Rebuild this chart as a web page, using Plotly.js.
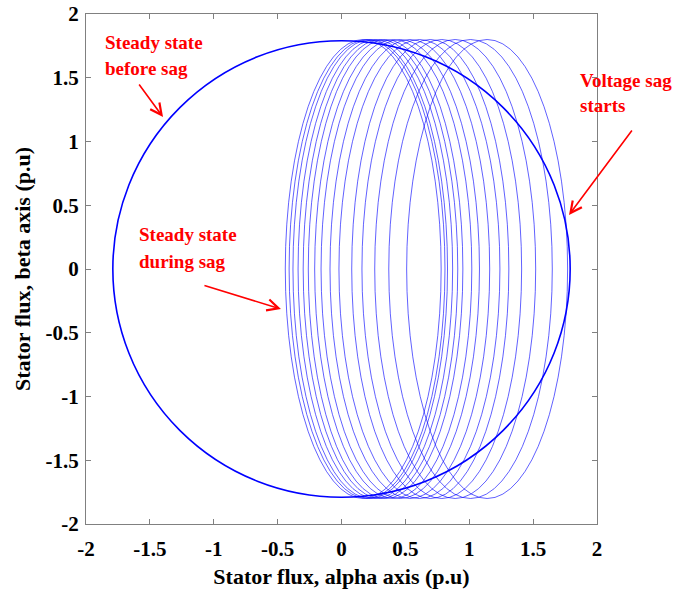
<!DOCTYPE html>
<html><head><meta charset="utf-8">
<script src="https://cdn.plot.ly/plotly-3.0.1.min.js"></script>
<style>html,body{margin:0;padding:0;background:#fff}#chart{width:690px;height:595px}</style>
</head><body><div id="chart"></div>
<script>
// Axis ticks
const tickValues = [-2, -1.5, -1, -0.5, 0, 0.5, 1, 1.5, 2];
const tickLabels = ['-2', '-1.5', '-1', '-0.5', '0', '0.5', '1', '1.5', '2'];

// Steady state before sag: circle radius (p.u)
const preSagRadius = 1.79;
// Beta-axis peak of every loop during sag (p.u)
const sagBetaPeak = 1.8;
// Alpha-axis crossings (beta = 0) of each successive loop during the sag (p.u)
const loopLeft  = [0.51, 0.37, 0.26, 0.16, 0.08, -0.02, -0.09, -0.16, -0.21, -0.26, -0.30, -0.34, -0.38, -0.41, -0.44];
const loopRight = [1.77, 1.65, 1.52, 1.41, 1.31, 1.24, 1.16, 1.08, 1.02, 0.95, 0.91, 0.87, 0.83, 0.81, 0.78];

const FONT = 'Liberation Serif, Times New Roman, serif';

const shapes = [];
// pre-sag circle
shapes.push({
  type: 'circle', xref: 'x', yref: 'y',
  x0: -preSagRadius, x1: preSagRadius, y0: -preSagRadius, y1: preSagRadius,
  line: {color: '#0000ff', width: 1.6}
});
// loops during sag
for (let i = 0; i < loopLeft.length; i++) {
  shapes.push({
    type: 'circle', xref: 'x', yref: 'y',
    x0: loopLeft[i], x1: loopRight[i], y0: -sagBetaPeak, y1: sagBetaPeak,
    line: {color: 'rgba(0,0,255,0.62)', width: 1}
  });
}

const redFont = {family: FONT, size: 19, color: '#ff0000', weight: 'bold'};
function note(text, x, y) {
  return {text: text, x: x, y: y, xref: 'x', yref: 'y', xanchor: 'left', yanchor: 'middle',
          showarrow: false, font: redFont};
}
function arrow(x, y, ax, ay) {
  return {text: '', x: x, y: y, xref: 'x', yref: 'y', ax: ax, ay: ay, showarrow: true,
          arrowhead: 5, arrowsize: 1.4, arrowwidth: 1.6, arrowcolor: '#ff0000', standoff: 0};
}

const annotations = [
  note('Steady state', -1.87, 1.78),
  note('before sag', -1.87, 1.575),
  note('Steady state', -1.60, 0.267),
  note('during sag', -1.60, 0.055),
  note('Voltage sag', 1.85, 1.482),
  note('starts', 1.85, 1.286),
  arrow(-1.397, 1.192, -25, -34),
  arrow(-0.474, -0.314, -78, -24),
  arrow(1.781, 0.424, 64, -86)
];

const axisCommon = {
  range: [-2, 2], tickmode: 'array', tickvals: tickValues, ticktext: tickLabels,
  showgrid: false, zeroline: false, showline: true, mirror: 'ticks',
  linecolor: '#808080', linewidth: 1, ticks: 'inside', ticklen: 5, tickcolor: '#808080',
  tickfont: {family: FONT, size: 21, color: '#000', weight: 'bold'}
};

const layout = {
  width: 690, height: 595,
  margin: {l: 86, r: 93, t: 14, b: 71},
  paper_bgcolor: '#fff', plot_bgcolor: '#fff',
  showlegend: false,
  xaxis: Object.assign({}, axisCommon, {
    ticklabelstandoff: 6,
    title: {text: 'Stator flux, alpha axis (p.u)', font: {family: FONT, size: 22, color: '#000', weight: 'bold'}, standoff: 8}
  }),
  yaxis: Object.assign({}, axisCommon, {
    ticklabelstandoff: 2,
    title: {text: 'Stator flux, beta axis (p.u)', font: {family: FONT, size: 22, color: '#000', weight: 'bold'}, standoff: 8}
  }),
  shapes: shapes,
  annotations: annotations
};

Plotly.newPlot('chart', [], layout, {displayModeBar: false, staticPlot: true});
</script>
</body></html>
